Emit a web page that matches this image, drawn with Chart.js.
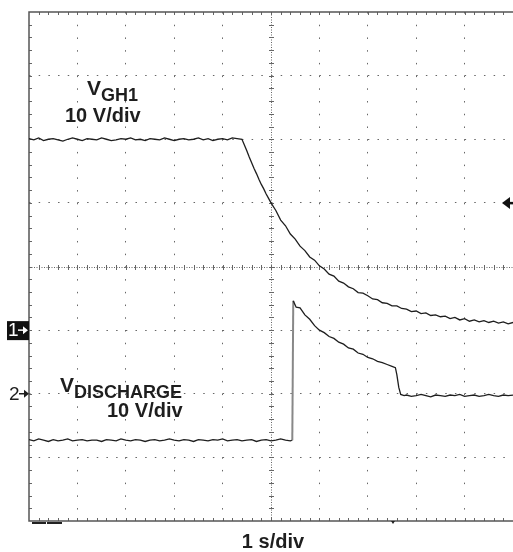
<!DOCTYPE html>
<html>
<head>
<meta charset="utf-8">
<script src="https://cdn.jsdelivr.net/npm/chart.js@4.4.1/dist/chart.umd.min.js"></script>
<style>
  html, body { margin: 0; padding: 0; background: #fff; }
  #wrap { width: 513px; height: 552px; position: relative; }
</style>
</head>
<body>
<div id="wrap"><canvas id="scope"></canvas></div>
<script>
// time axis in divisions (1 s/div), voltage in divisions (10 V/div), 0 = screen centre
const gh1T = [0,0.1,0.2,0.3,0.4,0.5,0.6,0.7,0.8,0.9,1.0,1.1,1.2,1.3,1.4,1.5,1.6,1.7,1.8,1.9,2.0,2.1,2.2,2.3,2.4,2.5,2.6,2.7,2.8,2.9,3.0,3.1,3.2,3.3,3.4,3.5,3.6,3.7,3.8,3.9,4.0,4.1,4.2,4.3,4.4,
  4.45,4.5,4.55,4.6,4.65,4.7,4.75,4.8,4.85,4.9,4.95,5.0,5.1,5.2,5.3,5.4,5.5,5.6,5.7,5.8,5.9,6.0,6.1,6.2,6.3,6.4,6.5,6.6,6.7,6.8,6.9,
  7.0,7.1,7.2,7.3,7.4,7.5,7.6,7.7,7.8,7.9,8.0,8.1,8.2,8.3,8.4,8.5,8.6,8.7,8.8,8.9,9.0,9.1,9.2,9.3,9.4,9.5,9.6,9.7,9.8,9.9,10];
const gh1V = [2.01,1.99,2.02,1.98,2.00,2.01,1.99,1.97,2.00,2.02,2.00,1.98,2.01,2.00,1.99,2.02,2.00,1.98,1.99,2.01,2.00,2.02,1.99,2.00,1.98,2.01,2.00,1.99,2.02,2.00,1.98,2.00,2.01,1.99,2.00,2.02,1.99,2.01,1.98,2.00,2.01,1.99,2.02,2.01,2.00,
  1.91,1.82,1.72,1.63,1.54,1.46,1.37,1.29,1.22,1.14,1.07,1.00,0.88,0.73,0.64,0.51,0.43,0.32,0.25,0.15,0.10,0.01,-0.04,-0.12,-0.15,-0.23,-0.26,-0.32,-0.35,-0.41,-0.42,
  -0.46,-0.51,-0.52,-0.57,-0.58,-0.62,-0.62,-0.66,-0.67,-0.71,-0.70,-0.74,-0.73,-0.77,-0.76,-0.79,-0.78,-0.82,-0.80,-0.84,-0.82,-0.86,-0.84,-0.87,-0.85,-0.88,-0.86,-0.89,-0.87,-0.90,-0.88];

const disT = [0,0.1,0.2,0.3,0.4,0.5,0.6,0.7,0.8,0.9,1.0,1.1,1.2,1.3,1.4,1.5,1.6,1.7,1.8,1.9,2.0,2.1,2.2,2.3,2.4,2.5,2.6,2.7,2.8,2.9,3.0,3.1,3.2,3.3,3.4,3.5,3.6,3.7,3.8,3.9,4.0,4.1,4.2,4.3,4.4,4.5,4.6,4.7,4.8,4.9,5.0,5.1,5.2,5.3,5.4,5.44,
  5.46,5.52,5.6,5.7,5.8,5.9,6.0,6.1,6.2,6.3,6.4,6.5,6.6,6.7,6.8,6.9,7.0,7.1,7.2,7.3,7.4,7.5,7.57,7.6,7.64,7.68,7.75,
  7.8,7.9,8.0,8.1,8.2,8.3,8.4,8.5,8.6,8.7,8.8,8.9,9.0,9.1,9.2,9.3,9.4,9.5,9.6,9.7,9.8,9.9,10];
const disV = [-2.72,-2.74,-2.71,-2.73,-2.75,-2.72,-2.74,-2.73,-2.71,-2.74,-2.73,-2.72,-2.74,-2.73,-2.73,-2.75,-2.72,-2.73,-2.74,-2.71,-2.73,-2.74,-2.72,-2.73,-2.75,-2.73,-2.72,-2.74,-2.73,-2.71,-2.73,-2.74,-2.72,-2.73,-2.75,-2.72,-2.73,-2.74,-2.72,-2.73,-2.71,-2.74,-2.73,-2.72,-2.74,-2.73,-2.72,-2.75,-2.73,-2.72,-2.74,-2.73,-2.71,-2.73,-2.74,-2.73,
  -0.54,-0.64,-0.65,-0.76,-0.83,-0.93,-1.00,-1.04,-1.10,-1.13,-1.19,-1.22,-1.28,-1.30,-1.36,-1.38,-1.43,-1.45,-1.49,-1.51,-1.54,-1.57,-1.59,-1.70,-1.90,-2.01,-2.03,
  -2.02,-2.04,-2.03,-2.01,-2.03,-2.05,-2.02,-2.03,-2.04,-2.02,-2.03,-2.01,-2.04,-2.03,-2.02,-2.04,-2.03,-2.01,-2.03,-2.04,-2.02,-2.03,-2.02];

const xDivs = [0, 10];
const yDivs = [-4, 4];

const toPts = (ts, vs) => ts.map((t, i) => ({ x: t, y: vs[i] }));
const FONT = "'Liberation Sans', Arial, sans-serif";

// scope screen furniture: centre graticule, frame, labels, markers
const scopePlugin = {
  id: 'scope',
  beforeDatasetsDraw(chart) {
    const { ctx, chartArea: a, scales: { x, y } } = chart;
    const dx = (x.getPixelForValue(1) - x.getPixelForValue(0)) / 5;
    const dy = (y.getPixelForValue(0) - y.getPixelForValue(1)) / 5;
    const cx = Math.round(x.getPixelForValue(5)) + 0.5;
    const cy = Math.round(y.getPixelForValue(0)) + 0.5;
    ctx.save();
    ctx.strokeStyle = '#666';
    ctx.lineWidth = 1;
    // centre cross
    ctx.setLineDash([1, 1.5]);
    ctx.beginPath();
    ctx.moveTo(cx, a.top); ctx.lineTo(cx, a.bottom);
    ctx.moveTo(a.left, cy); ctx.lineTo(a.right, cy);
    ctx.stroke();
    ctx.setLineDash([]);
    ctx.beginPath();
    for (let k = 1; k < 40; k++) {
      const py = Math.round(a.top + k * dy) + 0.5;
      ctx.moveTo(cx - 2.5, py); ctx.lineTo(cx + 2.5, py);
      ctx.moveTo(a.left, py); ctx.lineTo(a.left + 3, py);
    }
    for (let k = 1; k < 50; k++) {
      const px = Math.round(a.left + k * dx) + 0.5;
      ctx.moveTo(px, cy - 2.5); ctx.lineTo(px, cy + 2.5);
      ctx.moveTo(px, a.top); ctx.lineTo(px, a.top + 3);
      ctx.moveTo(px, a.bottom); ctx.lineTo(px, a.bottom - 3);
    }
    ctx.stroke();
    // frame
    ctx.strokeStyle = '#555';
    ctx.lineWidth = 1.5;
    ctx.beginPath();
    ctx.moveTo(a.right + 2, a.top); ctx.lineTo(a.left, a.top);
    ctx.lineTo(a.left, a.bottom); ctx.lineTo(a.right + 2, a.bottom);
    ctx.stroke();
    // small marks on the bottom edge
    ctx.fillStyle = '#222';
    ctx.fillRect(a.left + 3, a.bottom + 1, 14, 2);
    ctx.fillRect(a.left + 18, a.bottom + 1, 15, 2);
    ctx.beginPath();
    ctx.moveTo(391, a.bottom); ctx.lineTo(395, a.bottom); ctx.lineTo(393, a.bottom + 3);
    ctx.fill();
    ctx.restore();
  },
  afterDraw(chart) {
    const { ctx, chartArea: a, scales: { x, y } } = chart;
    ctx.save();
    ctx.fillStyle = '#1e1e1e';
    ctx.textBaseline = 'alphabetic';
    ctx.textAlign = 'left';
    ctx.font = 'bold 21px ' + FONT;
    ctx.fillText('V', 87, 95);
    ctx.fillText('V', 60, 392);
    ctx.font = 'bold 20px ' + FONT;
    ctx.fillText('10 V/div', 65, 122);
    ctx.fillText('10 V/div', 107, 417);
    ctx.font = 'bold 18px ' + FONT;
    ctx.fillText('GH1', 101, 101);
    ctx.fillText('DISCHARGE', 74, 398);
    ctx.textAlign = 'center';
    ctx.font = 'bold 20px ' + FONT;
    ctx.fillText('1 s/div', 273, 548);

    // channel markers
    const y1 = y.getPixelForValue(-1);
    const y2 = y.getPixelForValue(-2);
    ctx.fillStyle = '#111';
    ctx.fillRect(7, y1 - 9, 22, 19);
    ctx.fillStyle = '#fff';
    ctx.textAlign = 'left';
    ctx.textBaseline = 'middle';
    ctx.font = '19px ' + FONT;
    ctx.fillText('1', 8, y1 + 1);
    ctx.fillStyle = '#1e1e1e';
    ctx.fillText('2', 9, y2 + 1);
    const arrow = (x0, yy, col) => {
      ctx.strokeStyle = col; ctx.fillStyle = col; ctx.lineWidth = 1.5;
      ctx.beginPath(); ctx.moveTo(x0, yy); ctx.lineTo(x0 + 8, yy); ctx.stroke();
      ctx.beginPath(); ctx.moveTo(x0 + 10, yy); ctx.lineTo(x0 + 5, yy - 4); ctx.lineTo(x0 + 5, yy + 4); ctx.fill();
    };
    arrow(18, y1, '#fff');
    arrow(19, y2, '#1e1e1e');

    // trigger level marker on the right edge
    const ty = y.getPixelForValue(1);
    ctx.fillStyle = '#111';
    ctx.beginPath();
    ctx.moveTo(502, ty); ctx.lineTo(510, ty - 6); ctx.lineTo(510, ty + 6); ctx.closePath(); ctx.fill();
    ctx.fillRect(509, ty - 1, 4, 2.5);
    ctx.restore();
  }
};

new Chart(document.getElementById('scope'), {
  type: 'line',
  data: {
    datasets: [
      {
        label: 'VGH1',
        data: toPts(gh1T, gh1V),
        borderColor: '#1e1e1e',
        borderWidth: 1.3,
        pointRadius: 0,
        tension: 0
      },
      {
        label: 'VDISCHARGE',
        data: toPts(disT, disV),
        borderColor: '#1e1e1e',
        borderWidth: 1.3,
        pointRadius: 0,
        tension: 0,
        segment: {
          borderColor: (c) => Math.abs(c.p1.parsed.y - c.p0.parsed.y) > 1 ? '#888' : undefined,
          borderWidth: (c) => Math.abs(c.p1.parsed.y - c.p0.parsed.y) > 1 ? 2 : undefined
        }
      }
    ]
  },
  options: {
    responsive: true,
    maintainAspectRatio: false,
    animation: false,
    events: [],
    layout: { padding: { left: 29, top: 12, right: 0, bottom: 31 } },
    plugins: { legend: { display: false }, tooltip: { enabled: false } },
    scales: {
      x: {
        type: 'linear',
        min: xDivs[0],
        max: xDivs[1],
        afterFit: (s) => { s.height = 0; },
        ticks: { display: false, stepSize: 1 },
        grid: {
          drawTicks: false,
          color: (c) => (c.tick && (c.tick.value === 5 || c.tick.value === 0)) ? 'rgba(0,0,0,0)' : '#666',
          lineWidth: 1
        },
        border: { display: false, dash: [1.5, 11.22] }
      },
      y: {
        type: 'linear',
        min: yDivs[0],
        max: yDivs[1],
        afterFit: (s) => { s.width = 0; },
        ticks: { display: false, stepSize: 1 },
        grid: {
          drawTicks: false,
          color: (c) => (c.tick && (c.tick.value === 0 || Math.abs(c.tick.value) === 4)) ? 'rgba(0,0,0,0)' : '#666',
          lineWidth: 1
        },
        border: { display: false, dash: [1.5, 8.18] }
      }
    }
  },
  plugins: [scopePlugin]
});
</script>
</body>
</html>
